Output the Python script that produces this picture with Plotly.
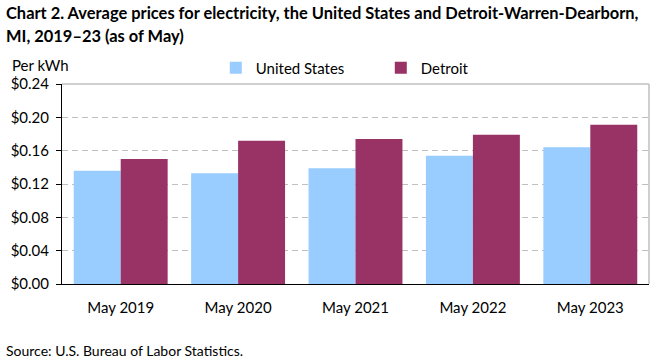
import plotly.graph_objects as go

categories = ["May 2019", "May 2020", "May 2021", "May 2022", "May 2023"]
us_values = [0.136, 0.133, 0.139, 0.154, 0.164]
detroit_values = [0.150, 0.172, 0.174, 0.179, 0.191]
y_ticks = [0.00, 0.04, 0.08, 0.12, 0.16, 0.20, 0.24]
y_tick_labels = ["$0.00", "$0.04", "$0.08", "$0.12", "$0.16", "$0.20", "$0.24"]

FONT = "Lato"

fig = go.Figure()
fig.add_trace(go.Bar(x=categories, y=us_values, name="United States",
                     marker=dict(color="#99CCFF", line=dict(width=0))))
fig.add_trace(go.Bar(x=categories, y=detroit_values, name="Detroit",
                     marker=dict(color="#993366", line=dict(width=0))))

fig.update_layout(
    width=661, height=360,
    margin=dict(l=62, r=12, t=84, b=76, autoexpand=False),
    paper_bgcolor="white", plot_bgcolor="white",
    barmode="group", bargap=0.2, bargroupgap=0,
    font=dict(family=FONT, size=15, color="#000000"),
    legend=dict(orientation="h", x=0.262, xanchor="left", y=1.08, yanchor="middle",
                font=dict(family=FONT, size=15), itemwidth=30,
                entrywidth=120, entrywidthmode="pixels",
                traceorder="normal", bgcolor="rgba(0,0,0,0)"),
    xaxis=dict(showline=True, linecolor="black", linewidth=1, ticks="",
               ticklabelstandoff=10,
               tickfont=dict(family=FONT, size=15), mirror=False),
    yaxis=dict(range=[0, 0.24], tickvals=y_ticks, ticktext=y_tick_labels,
               showline=True, linecolor="black", linewidth=1,
               ticks="outside", ticklen=5, tickcolor="black",
               ticklabelstandoff=4,
               showgrid=True, gridcolor="#BFBFBF", griddash="6px,4px", gridwidth=1,
               zeroline=False, tickfont=dict(family=FONT, size=15)),
    annotations=[
        dict(text="<b>Chart 2. Average prices for electricity, the United States and Detroit-Warren-Dearborn,</b>",
             xref="paper", yref="paper", x=-0.0988, y=1.355, xanchor="left", yanchor="middle",
             align="left", showarrow=False,
             font=dict(family=FONT, size=16.45, color="#000000")),
        dict(text="<b>MI, 2019–23 (as of May)</b>",
             xref="paper", yref="paper", x=-0.0988, y=1.24, xanchor="left", yanchor="middle",
             align="left", showarrow=False,
             font=dict(family=FONT, size=16.45, color="#000000")),
        dict(text="Per kWh", xref="paper", yref="paper", x=-0.0886, y=1.095,
             xanchor="left", yanchor="middle", showarrow=False,
             font=dict(family=FONT, size=15)),
        dict(text="Source: U.S. Bureau of Labor Statistics.", xref="paper", yref="paper",
             x=-0.0988, y=-0.33, xanchor="left", yanchor="middle", showarrow=False,
             font=dict(family=FONT, size=14)),
    ],
    shapes=[
        dict(type="line", xref="paper", yref="paper", x0=0, x1=1, y0=1, y1=1,
             line=dict(color="#BFBFBF", width=1.5)),
        dict(type="line", xref="paper", yref="paper", x0=1, x1=1, y0=0, y1=1,
             line=dict(color="#BFBFBF", width=1.5)),
    ],
)

fig.write_html("out.html", config={"displayModeBar": False},
               post_script="document.body.style.margin='0';")
